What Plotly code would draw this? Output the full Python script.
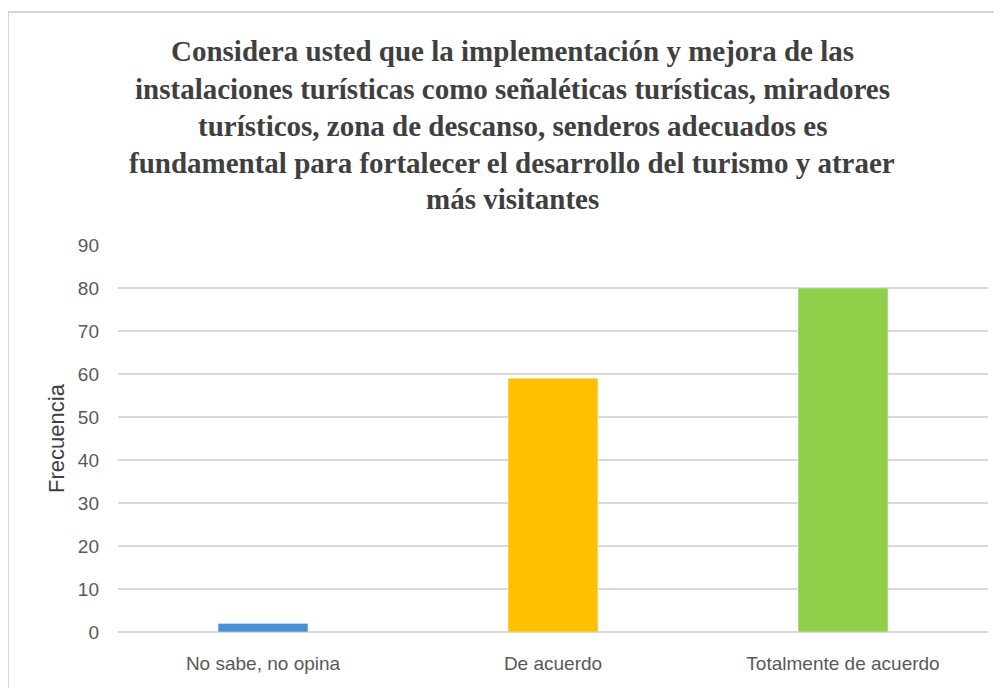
import plotly.graph_objects as go

categories = ["No sabe, no opina", "De acuerdo", "Totalmente de acuerdo"]
values = [2, 59, 80]
colors = ["#4a8fd8", "#ffc000", "#8fcf4a"]
y_ticks = [0, 10, 20, 30, 40, 50, 60, 70, 80, 90]
title_lines = [
    "Considera usted que la implementación y mejora de las",
    "instalaciones turísticas como señaléticas turísticas, miradores",
    "turísticos, zona de descanso, senderos adecuados es",
    "fundamental para fortalecer el desarrollo del turismo y atraer",
    "más visitantes",
]

# page body has an 8px margin; work in reference-pixel coordinates and shift
OFF = 8
W, H = 1002 - OFF, 688 - OFF
L, R, T, B = 118 - OFF, 14, 245 - OFF, 56
ph = H - T - B
pw = W - L - R


def px(x):
    return (x - OFF - L) / pw


def py(y):
    return (H - B - (y - OFF)) / ph


fig = go.Figure(go.Bar(x=categories, y=values, marker_color=colors, width=0.31))

ann = []
centers = [51, 89, 126, 163, 199]
for line, c in zip(title_lines, centers):
    ann.append(dict(text="<b>" + line + "</b>", xref="paper", yref="paper",
                    x=px(512), y=py(c), showarrow=False,
                    xanchor="center", yanchor="middle",
                    font=dict(family="Liberation Serif", size=29, color="#3f3f3f")))

fig.update_layout(
    width=W, height=H,
    margin=dict(l=L, r=R, t=T, b=B),
    paper_bgcolor="white", plot_bgcolor="white",
    showlegend=False,
    annotations=ann,
    shapes=[dict(type="rect", xref="paper", yref="paper",
                 x0=px(8), x1=px(1020),
                 y0=py(700), y1=py(12),
                 line=dict(color="#c8c8c8", width=1.5), fillcolor="rgba(0,0,0,0)", layer="below")],
    xaxis=dict(showgrid=False, showline=False, ticks="", ticklabelstandoff=18,
               tickfont=dict(family="Liberation Sans", size=19, color="#595959")),
    yaxis=dict(range=[0, 90], tickvals=y_ticks, showgrid=True, gridcolor="#d9d9d9", gridwidth=1.5,
               zeroline=True, zerolinecolor="#d9d9d9", zerolinewidth=1.5,
               ticks="", ticklabelstandoff=18,
               tickfont=dict(family="Liberation Sans", size=19, color="#595959"),
               title=dict(text="Frecuencia", standoff=7,
                          font=dict(family="Liberation Sans", size=22, color="#404040"))),
)

fig.write_html("out.html")
